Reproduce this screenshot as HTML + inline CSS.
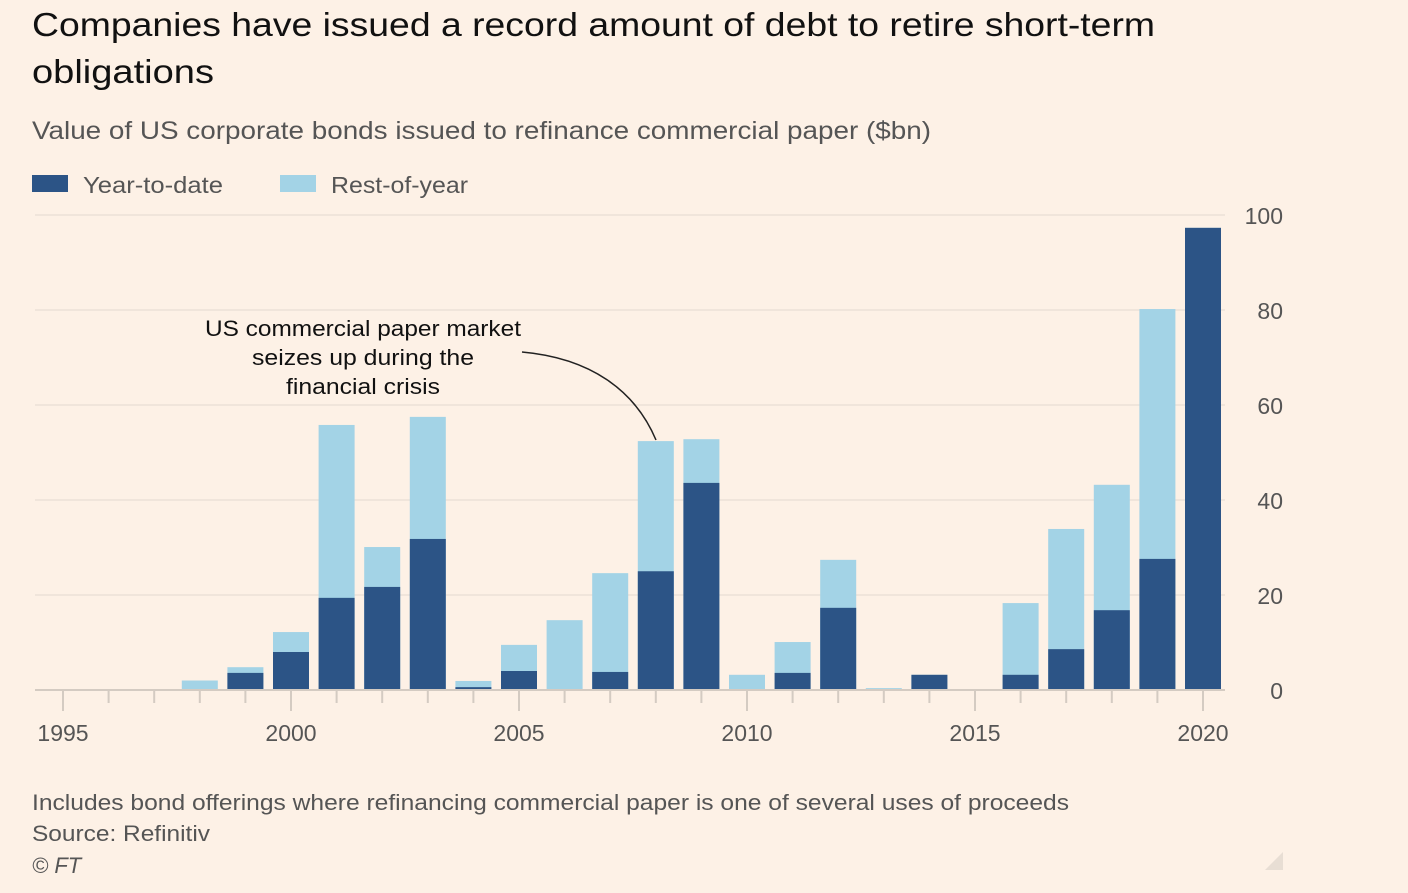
<!DOCTYPE html>
<html><head><meta charset="utf-8"><style>
html,body{margin:0;padding:0;background:#fdf1e6;}
body{width:1408px;height:888px;overflow:hidden;font-family:"Liberation Sans",sans-serif;}
</style></head><body>
<svg width="1408" height="888" xmlns="http://www.w3.org/2000/svg" font-family="Liberation Sans, sans-serif">
<rect width="1408" height="888" fill="#fdf1e6"/>
<text x="32" y="36" font-size="33" fill="#111" textLength="1123" lengthAdjust="spacingAndGlyphs">Companies have issued a record amount of debt to retire short-term</text>
<text x="32" y="83" font-size="33" fill="#111" textLength="182" lengthAdjust="spacingAndGlyphs">obligations</text>
<text x="32" y="139" font-size="25" fill="#555" textLength="899" lengthAdjust="spacingAndGlyphs">Value of US corporate bonds issued to refinance commercial paper ($bn)</text>
<rect x="32" y="175" width="36" height="17" fill="#2c5486"/>
<text x="83" y="193" font-size="23" fill="#555" textLength="140" lengthAdjust="spacingAndGlyphs">Year-to-date</text>
<rect x="280" y="175" width="36" height="17" fill="#a3d3e6"/>
<text x="331" y="193" font-size="23" fill="#555" textLength="137" lengthAdjust="spacingAndGlyphs">Rest-of-year</text>
<g stroke="#ebe1d7" stroke-width="1.5">
<line x1="35" y1="215" x2="1225" y2="215"/><line x1="35" y1="310" x2="1225" y2="310"/>
<line x1="35" y1="405" x2="1225" y2="405"/><line x1="35" y1="500" x2="1225" y2="500"/>
<line x1="35" y1="595" x2="1225" y2="595"/>
</g>
<g font-size="23" fill="#555" text-anchor="end">
<text x="1283" y="224">100</text><text x="1283" y="319">80</text><text x="1283" y="414">60</text>
<text x="1283" y="509">40</text><text x="1283" y="604">20</text><text x="1283" y="699">0</text>
</g>
<g id="bars"></g>
<line x1="35" y1="690" x2="1225" y2="690" stroke="#d4cbc2" stroke-width="2"/>
<g id="ticks" stroke="#d4cbc2" stroke-width="2"></g>
<g font-size="23" fill="#555" text-anchor="middle">
<text x="63" y="741">1995</text><text x="291" y="741">2000</text><text x="519" y="741">2005</text>
<text x="747" y="741">2010</text><text x="975" y="741">2015</text><text x="1203" y="741">2020</text>
</g>
<g font-size="22" fill="#111">
<text x="205" y="336" textLength="316" lengthAdjust="spacingAndGlyphs">US commercial paper market</text>
<text x="252" y="365" textLength="222" lengthAdjust="spacingAndGlyphs">seizes up during the</text>
<text x="286" y="394" textLength="154" lengthAdjust="spacingAndGlyphs">financial crisis</text>
</g>
<path d="M522 352 C590 358 635 390 656 440" fill="none" stroke="#222" stroke-width="1.5"/>
<text x="32" y="810" font-size="22" fill="#555" textLength="1037" lengthAdjust="spacingAndGlyphs">Includes bond offerings where refinancing commercial paper is one of several uses of proceeds</text>
<text x="32" y="841" font-size="22" fill="#555" textLength="178" lengthAdjust="spacingAndGlyphs">Source: Refinitiv</text>
<text x="32" y="873" font-size="22" fill="#555" font-style="italic">© FT</text>
<path d="M1283 852 L1283 870 L1265 870 Z" fill="#e8ded4"/>
<script>
var d=[[1998,2,0],[1999,4.8,3.6],[2000,12.2,8],[2001,55.8,19.4],[2002,30.1,21.7],[2003,57.5,31.8],[2004,1.9,0.6],[2005,9.5,4],[2006,14.7,0],[2007,24.6,3.8],[2008,52.4,25],[2009,52.8,43.6],[2010,3.2,0],[2011,10.1,3.6],[2012,27.4,17.3],[2013,0.4,0],[2014,3.2,3.2],[2016,18.3,3.2],[2017,33.9,8.6],[2018,43.2,16.8],[2019,80.2,27.6],[2020,97.3,97.3]];
var ns="http://www.w3.org/2000/svg",g=document.getElementById("bars"),t=document.getElementById("ticks");
function X(y){return 63+(y-1995)*45.6;}
function r(x,y,w,h,c){var e=document.createElementNS(ns,"rect");e.setAttribute("x",x);e.setAttribute("y",y);e.setAttribute("width",w);e.setAttribute("height",h);e.setAttribute("fill",c);g.appendChild(e);}
d.forEach(function(b){var x=X(b[0])-18,k=4.75;r(x,690-b[1]*k,36,b[1]*k,"#a3d3e6");if(b[2]>0)r(x,690-b[2]*k,36,b[2]*k,"#2c5486");});
for(var y=1995;y<=2020;y++){var l=document.createElementNS(ns,"line"),x=X(y);l.setAttribute("x1",x);l.setAttribute("x2",x);l.setAttribute("y1",690);l.setAttribute("y2",(y%5==0)?711:703);t.appendChild(l);}
</script>
</svg>
</body></html>
